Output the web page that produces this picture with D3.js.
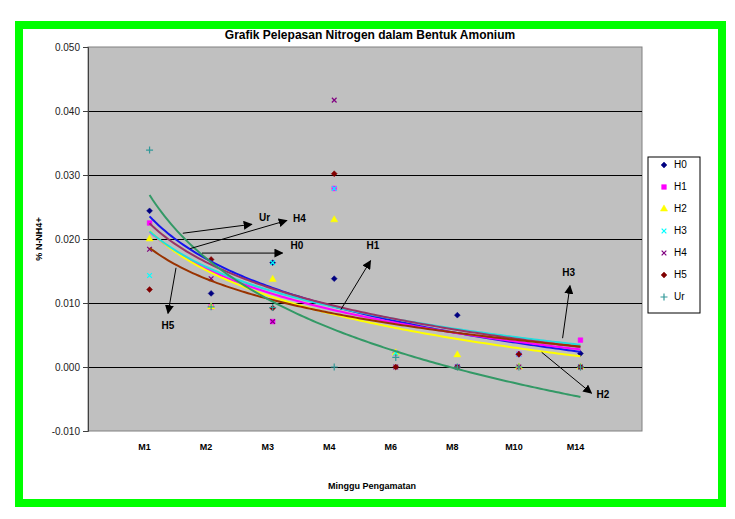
<!DOCTYPE html>
<html>
<head>
<meta charset="utf-8">
<script src="https://cdn.jsdelivr.net/npm/d3@7"></script>
<style>
    body { margin: 0; background: #fff; }
    svg { display: block; font-family: Arial, "Liberation Sans", sans-serif; }
    .y_axis text { font-size: 10px; fill: #222; }
    .lbl { font-size: 9px; font-weight: bold; fill: #000; }
    .note { font-size: 10px; font-weight: bold; fill: #000; }
</style>
</head>
<body>
<div id="chart"></div>
<script>
"use strict";

// weeks of observation (x = 1..8)
const weeks = ["M1", "M2", "M3", "M4", "M6", "M8", "M10", "M14"];
const yTicks = [-0.010, 0.000, 0.010, 0.020, 0.030, 0.040, 0.050];

// % N-NH4+ per treatment
const h0 = [0.0244, 0.0115, 0.0163, 0.0138, 0.0022, 0.0081, 0.0020, 0.0021];
const h1 = [0.0225, 0.0094, 0.0071, 0.0279, 0.0022, 0.0000, 0.0020, 0.0042];
const h2 = [0.0200, 0.0094, 0.0137, 0.0230, 0.0022, 0.0019, 0.0000, 0.0000];
const h3 = [0.0143, 0.0165, 0.0163, 0.0279, 0.0022, 0.0000, 0.0020, 0.0000];
const h4 = [0.0184, 0.0138, 0.0071, 0.0417, 0.0000, 0.0000, 0.0000, 0.0000];
const h5 = [0.0121, 0.0168, 0.0092, 0.0302, 0.0000, 0.0000, 0.0020, 0.0000];
const ur = [0.0339, 0.0094, 0.0093, 0.0000, 0.0015, 0.0000, 0.0000, 0.0000];

const seriesNames = ["H0", "H1", "H2", "H3", "H4", "H5", "Ur"];
const seriesValues = [h0, h1, h2, h3, h4, h5, ur];

// arrows + labels, in data units (x index, y value)
const notes = [
    {text: "Ur", x1: 1.54, y1: 0.0209, x2: 2.66, y2: 0.0223, lx: 2.78, ly: 0.0233, anchor: "start"},
    {text: "H4", x1: 1.66, y1: 0.0185, x2: 3.23, y2: 0.0229, lx: 3.33, ly: 0.0231, anchor: "start"},
    {text: "H0", x1: 1.85, y1: 0.0178, x2: 3.16, y2: 0.0178, lx: 3.29, ly: 0.0188, anchor: "start"},
    {text: "H5", x1: 1.43, y1: 0.0155, x2: 1.30, y2: 0.0084, lx: 1.30, ly: 0.0064, anchor: "middle"},
    {text: "H1", x1: 4.11, y1: 0.0090, x2: 4.59, y2: 0.0166, lx: 4.63, ly: 0.0188, anchor: "middle"},
    {text: "H3", x1: 7.71, y1: 0.0045, x2: 7.83, y2: 0.0127, lx: 7.81, ly: 0.0147, anchor: "middle"},
    {text: "H2", x1: 7.37, y1: 0.0023, x2: 8.18, y2: -0.0041, lx: 8.26, ly: -0.0044, anchor: "start"}
];

const styles = {
    H0: {marker: "#000080", line: "#1515ee", symbol: d3.symbolDiamond2, stroke: false, size: 22},
    H1: {marker: "#ff00ff", line: "#ff00ff", symbol: d3.symbolSquare, stroke: false, size: 22},
    H2: {marker: "#ffff00", line: "#ffff00", symbol: d3.symbolTriangle, stroke: false, size: 22},
    H3: {marker: "#00ffff", line: "#22dddd", symbol: d3.symbolTimes, stroke: true, size: 16},
    H4: {marker: "#800080", line: "#993366", symbol: d3.symbolTimes, stroke: true, size: 16},
    H5: {marker: "#800000", line: "#993300", symbol: d3.symbolDiamond2, stroke: false, size: 22},
    Ur: {marker: "#339999", line: "#339966", symbol: d3.symbolPlus, stroke: true, size: 18}
};

const W = 735, H = 519;
const plot = {left: 88, right: 642, top: 47, bottom: 431};

const svg = d3.select("#chart")
    .append("svg")
    .attr("width", W)
    .attr("height", H);

// green frame
svg.append("rect")
    .attr("x", 19).attr("y", 25)
    .attr("width", 703).attr("height", 478)
    .attr("fill", "#fff")
    .attr("stroke", "#00ff00")
    .attr("stroke-width", 8);

const xScale = d3.scaleLinear()
    .domain([0, 9])
    .range([plot.left, plot.right]);
const yScale = d3.scaleLinear()
    .domain([-0.01, 0.05])
    .range([plot.bottom, plot.top]);

svg.append("rect")
    .attr("x", plot.left).attr("y", plot.top)
    .attr("width", plot.right - plot.left)
    .attr("height", plot.bottom - plot.top)
    .attr("fill", "#c0c0c0")
    .attr("stroke", "#808080")
    .attr("stroke-width", 1);

// gridlines
svg.append("g")
    .selectAll("line")
    .data(yTicks.filter(v => v > -0.01 && v < 0.05))
    .join("line")
    .attr("x1", plot.left).attr("x2", plot.right)
    .attr("y1", d => Math.round(yScale(d)) + 0.5)
    .attr("y2", d => Math.round(yScale(d)) + 0.5)
    .attr("stroke", "#000")
    .attr("stroke-width", 1);

const yAxis = d3.axisLeft(yScale)
    .tickValues(yTicks)
    .tickSize(5)
    .tickPadding(3)
    .tickFormat(d => d.toFixed(3));
const yg = svg.append("g")
    .attr("class", "y_axis")
    .attr("transform", `translate(${plot.left},0)`)
    .call(yAxis);
yg.select(".domain").attr("stroke", "#404040");
yg.selectAll(".tick line").attr("stroke", "#404040");
yg.selectAll("text").attr("font-family", "Arial, 'Liberation Sans', sans-serif");

// category labels
svg.append("g")
    .selectAll("text")
    .data(weeks)
    .join("text")
    .attr("class", "lbl")
    .attr("text-anchor", "middle")
    .attr("x", (d, i) => xScale(i + 1) - 5)
    .attr("y", 450)
    .text(d => d);

svg.append("text")
    .attr("class", "lbl")
    .attr("text-anchor", "middle")
    .attr("x", 372)
    .attr("y", 489)
    .text("Minggu Pengamatan");

svg.append("text")
    .attr("class", "lbl")
    .attr("text-anchor", "middle")
    .attr("transform", `translate(42,${(plot.top + plot.bottom) / 2}) rotate(-90)`)
    .text("% N-NH4+");

svg.append("text")
    .attr("text-anchor", "middle")
    .attr("x", 370)
    .attr("y", 39)
    .style("font-size", "12px")
    .style("font-weight", "bold")
    .text("Grafik Pelepasan Nitrogen dalam Bentuk Amonium");

// logarithmic trendline: y = a + b ln(x)
function logFit(values) {
    const lx = values.map((v, i) => Math.log(i + 1));
    const mx = d3.mean(lx), my = d3.mean(values);
    let sxy = 0, sxx = 0;
    values.forEach((v, i) => {
        sxy += (lx[i] - mx) * (v - my);
        sxx += (lx[i] - mx) * (lx[i] - mx);
    });
    const b = sxy / sxx;
    return {a: my - b * mx, b: b};
}

function drawMarker(g, name, x, y) {
    const s = styles[name];
    const path = d3.symbol().type(s.symbol).size(s.size)();
    g.append("path")
        .attr("d", path)
        .attr("transform", `translate(${x},${y})`)
        .attr("fill", s.stroke ? "none" : s.marker)
        .attr("stroke", s.marker)
        .attr("stroke-width", s.stroke ? 1.2 : 0.5);
}

const points = svg.append("g");
seriesNames.forEach((name, k) => {
    seriesValues[k].forEach((v, i) => {
        drawMarker(points, name, xScale(i + 1), yScale(v));
    });
});

const lineGen = d3.line()
    .x(d => xScale(d[0]))
    .y(d => yScale(d[1]));

// trendlines sit on top of the markers
const trends = svg.append("g");
seriesNames.forEach((name, k) => {
    const fit = logFit(seriesValues[k]);
    const pts = d3.range(1, 8.001, 0.05).map(x => [x, fit.a + fit.b * Math.log(x)]);
    trends.append("path")
        .datum(pts)
        .attr("fill", "none")
        .attr("stroke", styles[name].line)
        .attr("stroke-width", 2)
        .attr("d", lineGen);
});

// arrows
svg.append("defs")
    .append("marker")
    .attr("id", "arrow")
    .attr("viewBox", "0 0 10 10")
    .attr("refX", 9).attr("refY", 5)
    .attr("markerWidth", 9).attr("markerHeight", 9)
    .attr("markerUnits", "userSpaceOnUse")
    .attr("orient", "auto")
    .append("path")
    .attr("d", "M0,0L10,5L0,10z")
    .attr("fill", "#000");

const ng = svg.append("g");
notes.forEach(n => {
    ng.append("line")
        .attr("x1", xScale(n.x1)).attr("y1", yScale(n.y1))
        .attr("x2", xScale(n.x2)).attr("y2", yScale(n.y2))
        .attr("stroke", "#000")
        .attr("stroke-width", 1)
        .attr("marker-end", "url(#arrow)");
    ng.append("text")
        .attr("class", "note")
        .attr("text-anchor", n.anchor)
        .attr("dominant-baseline", "middle")
        .attr("x", xScale(n.lx))
        .attr("y", yScale(n.ly))
        .text(n.text);
});

// legend
const legend = svg.append("g")
    .attr("transform", "translate(648,157)");
legend.append("rect")
    .attr("width", 52).attr("height", 156)
    .attr("fill", "#fff")
    .attr("stroke", "#000")
    .attr("stroke-width", 1);
seriesNames.forEach((name, k) => {
    const y = 8 + k * 22;
    drawMarker(legend, name, 16, y);
    legend.append("text")
        .attr("x", 26)
        .attr("y", y)
        .attr("dominant-baseline", "middle")
        .style("font-size", "10px")
        .text(name);
});
</script>
</body>
</html>
